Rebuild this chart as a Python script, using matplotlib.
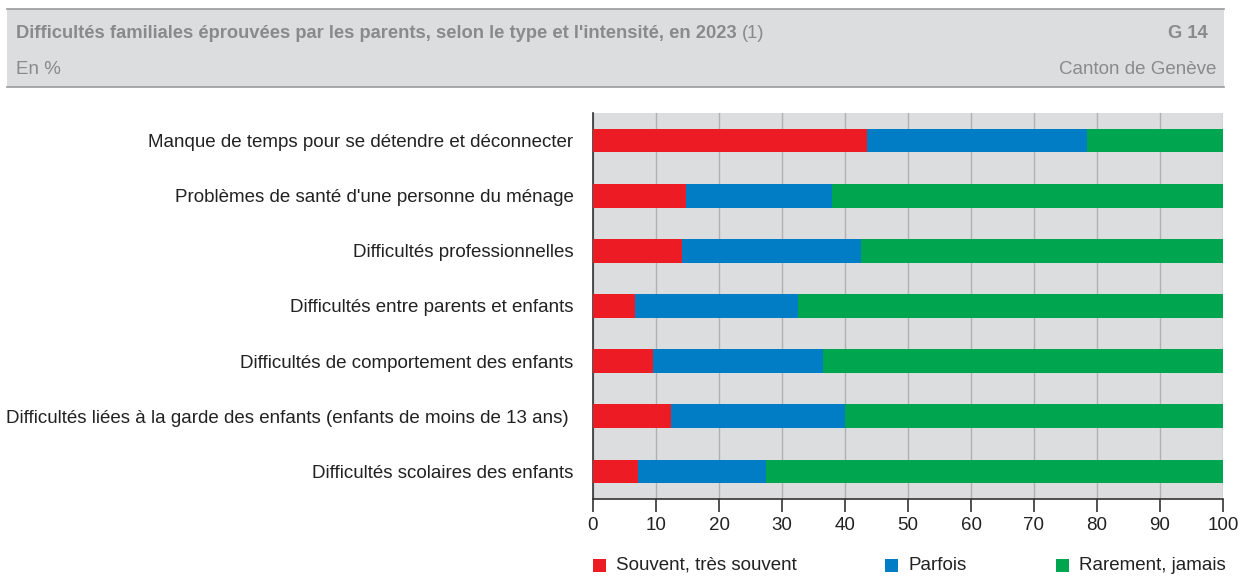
import matplotlib.pyplot as plt
from matplotlib.patches import Rectangle
from matplotlib.lines import Line2D

plt.rcParams['font.family'] = ['Liberation Sans', 'DejaVu Sans']

categories = [
    "Manque de temps pour se détendre et déconnecter",
    "Problèmes de santé d'une personne du ménage",
    "Difficultés professionnelles",
    "Difficultés entre parents et enfants",
    "Difficultés de comportement des enfants",
    "Difficultés liées à la garde des enfants (enfants de moins de 13 ans) ",
    "Difficultés scolaires des enfants",
]
souvent = [43.5, 14.8, 14.1, 6.7, 9.6, 12.4, 7.2]
parfois = [34.9, 23.1, 28.5, 25.8, 26.9, 27.6, 20.3]
rarement = [21.6, 62.1, 57.4, 67.5, 63.5, 60.0, 72.5]
series_names = ["Souvent, très souvent", "Parfois", "Rarement, jamais"]
colors = ["#ED1C24", "#007DC5", "#00A550"]
xticks = list(range(0, 101, 10))

fig = plt.figure(figsize=(12.46, 5.76), dpi=100)
W, H = 1246, 576

# bandeau de titre
fig.patches.append(Rectangle((7 / W, 1 - 87 / H), 1217 / W, 78 / H,
                             transform=fig.transFigure, facecolor="#DCDDDF",
                             edgecolor="none", zorder=0))
for yy in (9, 87):
    fig.add_artist(Line2D([7 / W, 1224 / W], [1 - yy / H, 1 - yy / H],
                          transform=fig.transFigure, color="#9A9A9A", lw=1.2))
title = "Difficultés familiales éprouvées par les parents, selon le type et l'intensité, en 2023"
t = fig.text(16 / W, 1 - 33 / H, title, fontsize=13.2, fontweight="bold",
             color="#8A8A8A", va="center", ha="left")
fig.canvas.draw()
bb = t.get_window_extent()
fig.text(bb.x1 / W + 5 / W, 1 - 33 / H, "(1)", fontsize=13.2, color="#8A8A8A",
         va="center", ha="left")
fig.text(1208 / W, 1 - 33 / H, "G 14", fontsize=13.2, fontweight="bold",
         color="#8A8A8A", va="center", ha="right")
fig.text(16 / W, 1 - 70 / H, "En %", fontsize=13.5, color="#8A8A8A",
         va="center", ha="left")
fig.text(1216 / W, 1 - 70 / H, "Canton de Genève", fontsize=13.5,
         color="#8A8A8A", va="center", ha="right")

ax = fig.add_axes([593 / W, 1 - 499 / H, 630 / W, 386 / H])
ax.set_facecolor("#DCDDDF")
y = list(range(len(categories)))
left = [0] * len(categories)
for vals, name, c in zip([souvent, parfois, rarement], series_names, colors):
    ax.barh(y, vals, left=left, height=0.43, color=c, label=name, zorder=3)
    left = [a + b for a, b in zip(left, vals)]

ax.set_xlim(0, 100)
ax.set_ylim(len(categories) - 0.5, -0.5)
ax.set_xticks(xticks)
ax.set_yticks(y)
ax.set_yticklabels(categories, fontsize=13.5, color="#222222")
ax.tick_params(axis="x", labelsize=13.5, labelcolor="#222222", length=9,
               width=1.2, color="#333333", pad=4)
ax.tick_params(axis="y", length=0, pad=14)
ax.grid(axis="x", color="#B0B0B0", lw=1, zorder=1)
for s in ("top", "right"):
    ax.spines[s].set_visible(False)
for s in ("left", "bottom"):
    ax.spines[s].set_color("#333333")
    ax.spines[s].set_linewidth(1.2)

# légende
legend_x = [593, 885, 1056]
for c, name, lx in zip(colors, series_names, legend_x):
    fig.patches.append(Rectangle((lx / W, 1 - 572 / H), 13 / W, 13 / H,
                                 transform=fig.transFigure, facecolor=c,
                                 edgecolor="none"))
    fig.text((lx + 23) / W, 1 - 565 / H, name, fontsize=13.5,
             color="#222222", va="center", ha="left")

fig.savefig("out.png", dpi=100)
